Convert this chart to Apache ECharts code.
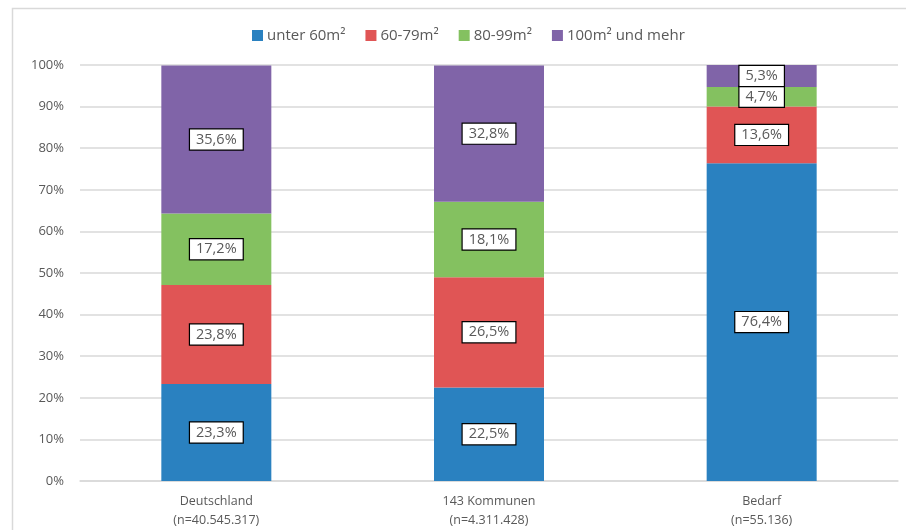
<!DOCTYPE html>
<html>
<head>
<meta charset="utf-8">
<script src="https://cdn.jsdelivr.net/npm/echarts@6/dist/echarts.min.js"></script>
<style>
  html, body { margin: 0; padding: 0; background: #fff; }
  #chart { width: 906px; height: 530px; }
</style>
</head>
<body>
<div id="chart"></div>
<script>
// Wohnungsgrößen: Anteile je Gruppe (in %)
const categories = ['Deutschland\n(n=40.545.317)', '143 Kommunen\n(n=4.311.428)', 'Bedarf\n(n=55.136)'];
const seriesNames = ['unter 60m²', '60-79m²', '80-99m²', '100m² und mehr'];
const unter60 = [23.3, 22.5, 76.4];
const m60bis79 = [23.8, 26.5, 13.6];
const m80bis99 = [17.2, 18.1, 4.7];
const ab100 = [35.6, 32.8, 5.3];
const yTicks = [0, 10, 20, 30, 40, 50, 60, 70, 80, 90, 100];

const colors = ['#2a81c0', '#e05555', '#84c160', '#8064a8'];
const values = [unter60, m60bis79, m80bis99, ab100];
const font = '"Open Sans", "Noto Sans", sans-serif';
const textColor = '#595959';

const chart = echarts.init(document.getElementById('chart'));
chart.setOption({
  animation: false,
  textStyle: { fontFamily: font },
  graphic: [{
    type: 'polyline',
    shape: { points: [[12.5, 530], [12.5, 8.5], [906, 8.5]] },
    style: { stroke: '#d9d9d9', lineWidth: 1.5, fill: null }
  }],
  legend: {
    top: 23,
    left: 247,
    itemWidth: 11,
    itemHeight: 11,
    itemGap: 20,
    icon: 'rect',
    textStyle: { color: textColor, fontSize: 15, fontFamily: font, padding: [0, 0, 0, -1] },
    data: seriesNames
  },
  grid: { left: 80, right: 8, top: 65, bottom: 48 },
  xAxis: {
    type: 'category',
    data: categories,
    axisLine: { lineStyle: { color: '#d9d9d9', width: 1.5 } },
    axisTick: { show: false },
    axisLabel: { color: textColor, fontSize: 12.5, lineHeight: 19, margin: 11, fontFamily: font }
  },
  yAxis: {
    type: 'value',
    min: 0,
    max: 100,
    interval: 10,
    axisLine: { show: false },
    axisTick: { show: false },
    splitLine: { lineStyle: { color: '#d9d9d9', width: 1.5 } },
    axisLabel: {
      color: textColor, fontSize: 13, margin: 16, fontFamily: font,
      formatter: v => yTicks.includes(v) ? v + '%' : ''
    }
  },
  series: seriesNames.map((name, i) => ({
    name,
    type: 'bar',
    stack: 'total',
    barWidth: 110,
    itemStyle: { color: colors[i] },
    data: values[i],
    label: {
      show: true,
      position: 'inside',
      formatter: p => p.value.toFixed(1).replace('.', ',') + '%',
      color: textColor,
      fontSize: 14.5,
      fontFamily: font,
      backgroundColor: '#fff',
      borderColor: '#000',
      borderWidth: 1.2,
      padding: [3, 6, 2, 6]
    }
  }))
});
</script>
</body>
</html>
